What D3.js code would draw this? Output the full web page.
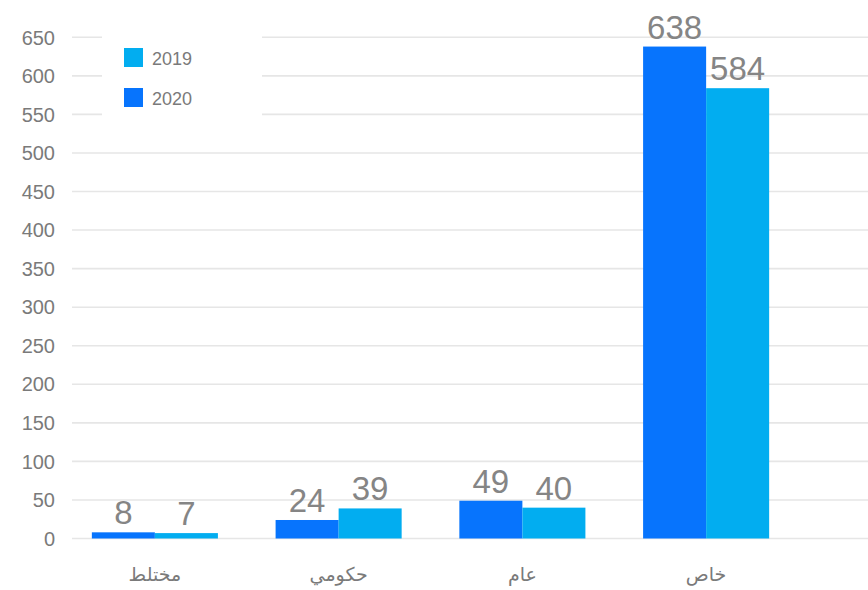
<!DOCTYPE html>
<html>
<head>
<meta charset="utf-8">
<script src="https://cdn.jsdelivr.net/npm/d3@7"></script>
<style>
  html, body { margin: 0; padding: 0; background: #fff; }
  svg { display: block; }
  text { font-family: "Liberation Sans", Arial, "DejaVu Sans", sans-serif; }
</style>
</head>
<body>
<svg id="chart" width="868" height="590"></svg>
<script>
const categories = ["مختلط", "حكومي", "عام", "خاص"];
const series2020 = [8, 24, 49, 638];
const series2019 = [7, 39, 40, 584];
const seriesNames = ["2020", "2019"];
const yTicks = [0, 50, 100, 150, 200, 250, 300, 350, 400, 450, 500, 550, 600, 650];

const colors = { "2020": "#0774fd", "2019": "#02adf0" };
const svg = d3.select("#chart");

const x = d3.scaleBand().domain(categories).range([63, 798]).paddingInner(0).paddingOuter(0);
const y = d3.scaleLinear().domain([0, 650]).range([538.5, 37.3]);
const barW = x.bandwidth() * 0.686;
const xs = d3.scaleBand().domain(seriesNames).range([0, barW]);

// gridlines
svg.append("g").selectAll("line").data(yTicks).join("line")
  .attr("x1", 72).attr("x2", 868)
  .attr("y1", d => y(d)).attr("y2", d => y(d))
  .attr("stroke", "#e6e6e6").attr("stroke-width", 1.6);

// y labels
svg.append("g").selectAll("text").data(yTicks).join("text")
  .attr("x", 55).attr("y", d => y(d)).attr("dy", "0.36em")
  .attr("text-anchor", "end").attr("fill", "#7a7a7a").attr("font-size", 20)
  .text(d => d);

const data = categories.map((c, i) => ({ cat: c, vals: [
  { s: "2020", v: series2020[i] }, { s: "2019", v: series2019[i] } ] }));

const groups = svg.append("g").selectAll("g").data(data).join("g")
  .attr("transform", d => `translate(${x(d.cat) + (x.bandwidth() - barW) / 2},0)`);

groups.selectAll("rect").data(d => d.vals).join("rect")
  .attr("x", d => xs(d.s)).attr("width", xs.bandwidth())
  .attr("y", d => y(d.v)).attr("height", d => y(0) - y(d.v))
  .attr("fill", d => colors[d.s]);

groups.selectAll("text.val").data(d => d.vals).join("text")
  .attr("class", "val")
  .attr("x", d => xs(d.s) + xs.bandwidth() / 2)
  .attr("y", d => y(d.v) - 8)
  .attr("text-anchor", "middle").attr("fill", "#858585").attr("font-size", 33)
  .text(d => d.v);

// x labels
svg.append("g").selectAll("text").data(categories).join("text")
  .attr("x", d => x(d) + x.bandwidth() / 2).attr("y", 581)
  .attr("text-anchor", "middle").attr("fill", "#7a7a7a").attr("font-size", 19)
  .text(d => d);

// legend
const legend = svg.append("g");
legend.append("rect").attr("x", 102).attr("y", 28).attr("width", 160).attr("height", 94).attr("fill", "#fff");
const legendItems = ["2019", "2020"];
legendItems.forEach((s, i) => {
  const yy = 48 + i * 40;
  legend.append("rect").attr("x", 124).attr("y", yy).attr("width", 19).attr("height", 19).attr("fill", colors[s]);
  legend.append("text").attr("x", 152).attr("y", yy + 17).attr("fill", "#7a7a7a").attr("font-size", 18).text(s);
});
</script>
</body>
</html>
